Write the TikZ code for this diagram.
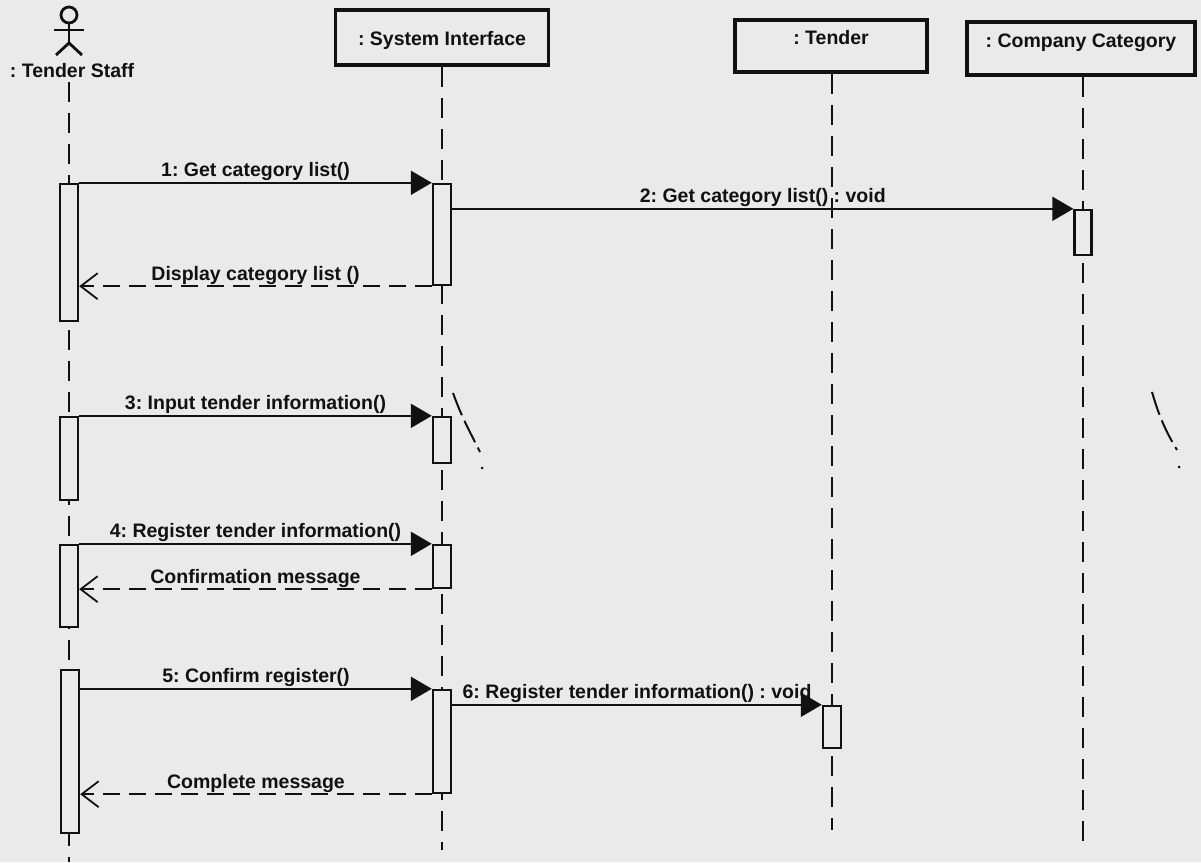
\documentclass[tikz,border=0pt]{standalone}
\usepackage{fontspec}
\newfontfamily\diafont{Liberation Sans Bold}
\usetikzlibrary{arrows.meta}
\definecolor{bgc}{RGB}{233,234,233}
\definecolor{ink}{RGB}{17,17,17}
\frenchspacing
\begin{document}
\begin{tikzpicture}[x=1pt,y=-1pt,
  txt/.style={font=\diafont\fontsize{19.5}{24}\selectfont, text=ink},
  obj/.style={txt, draw=ink, line width=3.5pt, fill=bgc, inner sep=0pt},
  life/.style={draw=ink, line width=2.6pt, dash pattern=on 20pt off 11pt},
  actbar/.style={draw=ink, fill=bgc, line width=2.4pt, minimum width=18pt, inner sep=0pt},
  msg/.style={draw=ink, line width=2pt, -{Triangle[length=21pt,width=24pt]}},
  ret/.style={draw=ink, line width=2pt, dash pattern=on 17pt off 9pt, -{Straight Barb[length=17pt,width=26pt,line width=1.8pt]}},
  msglabel/.style={txt, anchor=base, yshift=6pt, inner sep=0pt},
  stick/.style={draw=ink, line width=2.8pt}
]
\useasboundingbox[fill=bgc] (0,0) rectangle (1201,862);

% actor
\coordinate (actor) at (69,15);
\begin{scope}[shift={(actor)}]
  \draw[stick] (0,0) circle[radius=8];
  \draw[stick] (0,8) -- (0,28);
  \draw[stick] (-15,15) -- (15,15);
  \draw[stick] (-13,40) -- (0,28) -- (13,40);
\end{scope}
\node[txt, anchor=base, inner sep=0pt] (staff) at (72,77) {: Tender Staff};

% objects
\node[obj, minimum width=213pt, text height=35pt, text depth=20pt] (si) at (442,37.5) {: System Interface};
\node[obj, minimum width=192pt, text height=24pt, text depth=28pt] (tender) at (831,46) {: Tender};
\node[obj, minimum width=228pt, text height=25pt, text depth=28pt] (cc) at (1081,48.5) {: Company Category};

% lifeline ends
\coordinate (staffend) at (69,862);
\coordinate (siend) at (442,850);
\coordinate (tenderend) at (832,830);
\coordinate (ccend) at (1083,845);

\draw[life] ([yshift=-5pt]staff.south -| staffend) -- (staffend);
\draw[life] (si.south -| siend) -- (siend);
\draw[life] (tender.south -| tenderend) -- (tenderend);
\draw[life] (cc.south -| ccend) -- (ccend);

% activation bars
\node[actbar, minimum height=137pt] (sb1) at (69,252.5) {};
\node[actbar, minimum height=101pt] (sib1) at (442,234.5) {};
\node[actbar, minimum width=17pt, minimum height=45pt] (cc1) at (1083,232.5) {};
\node[actbar, minimum height=83pt] (sb2) at (69,458.5) {};
\node[actbar, minimum height=46pt] (sib2) at (442,440) {};
\node[actbar, minimum height=82pt] (sb3) at (69,586) {};
\node[actbar, minimum height=43pt] (sib3) at (442,566.5) {};
\node[actbar, minimum height=163pt] (sb4) at (70,751.5) {};
\node[actbar, minimum height=103pt] (sib4) at (442,741.5) {};
\node[actbar, minimum height=42pt] (tb) at (832,727) {};

% messages
\draw[msg] (sb1.north east) -- (sib1.north west) node[msglabel, midway] {1: Get category list()};
\draw[msg] (sib1.east |- cc1.north west) -- (cc1.north west) node[msglabel, midway] {2: Get category list() : void};
\draw[ret] (sib1.south west) -- (sib1.south west -| sb1.east) node[msglabel, midway] {Display category list ()};
\draw[msg] (sb2.north east) -- (sib2.north west) node[msglabel, midway] {3: Input tender information()};
\draw[msg] (sb3.north east) -- (sib3.north west) node[msglabel, midway] {4: Register tender information()};
\draw[ret] (sib3.south west) -- (sib3.south west -| sb3.east) node[msglabel, midway] {Confirmation message};
\draw[msg] (sib4.north west -| sb4.east) -- (sib4.north west) node[msglabel, midway] {5: Confirm register()};
\draw[msg] (sib4.east |- tb.north west) -- (tb.north west) node[msglabel, midway] {6: Register tender information() : void};
\draw[ret] (sib4.south west) -- (sib4.south west -| sb4.east) node[msglabel, midway] {Complete message};

% stray pen marks
\draw[draw=ink, line width=2pt, dash pattern=on 24pt off 6pt] (453,393) .. controls (462,418) and (470,432) .. (480,452);
\fill[ink] (482,468) circle[radius=1.5];
\draw[draw=ink, line width=2pt, dash pattern=on 24pt off 6pt] (1152,392) .. controls (1160,420) and (1168,435) .. (1177,450);
\fill[ink] (1179,467) circle[radius=1.5];
\end{tikzpicture}
\end{document}
